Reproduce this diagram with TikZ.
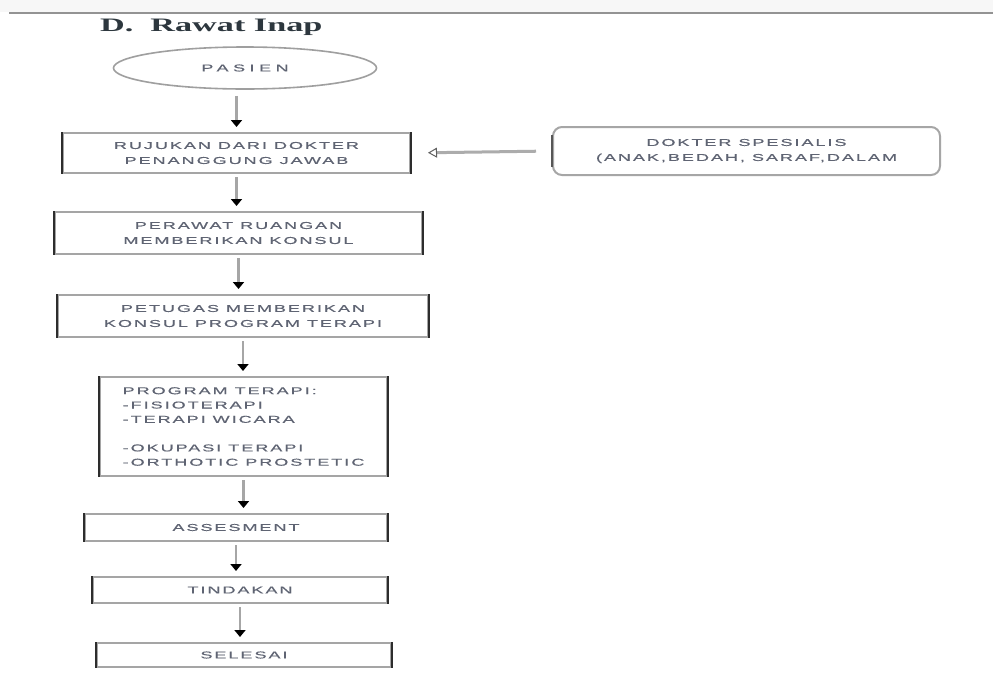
\documentclass[tikz,border=0pt]{standalone}
\usepackage{fontspec}
\usetikzlibrary{arrows.meta,shapes.geometric,calc}
\newfontfamily\boxfont[FakeStretch=1.8,LetterSpace=20,FakeBold=0.5]{Liberation Sans}
\newfontfamily\wideboxfont[FakeStretch=1.8,LetterSpace=45,FakeBold=0.5]{Liberation Sans}
\newfontfamily\titlefont[FakeStretch=1.8]{Liberation Serif}
\definecolor{boxtext}{RGB}{95,100,115}
\definecolor{titletext}{RGB}{45,55,62}
\definecolor{edgegray}{RGB}{165,165,165}
\definecolor{edgedark}{RGB}{45,45,45}
\tikzset{
  x=1pt,y=-1pt,
  stepbox/.style={draw=edgegray,line width=2pt,rectangle,inner sep=0pt,
    font=\boxfont\fontsize{10}{16}\selectfont,text=boxtext,align=center},
  flow/.style={draw=gray!70,line width=2.6pt,shorten <=3pt,shorten >=5pt,
    -{Triangle[width=11pt,length=7pt,fill=black,color=black]}},
  side/.style={draw=edgedark,line width=2pt},
}
\begin{document}
\begin{tikzpicture}
\useasboundingbox (0,0) rectangle (993,678);
\fill[white] (0,0) rectangle (993,678);
\fill[gray!6] (0,0) rectangle (993,12);
\draw[gray!85,line width=2.6pt] (9,13) -- (993,13);

\node[anchor=base west,font=\titlefont\bfseries\fontsize{19}{21}\selectfont,text=titletext,inner sep=0pt]
  (title) at (100,31) {D.\hspace{17pt}Rawat Inap};

\node[ellipse,draw=gray!75,line width=1.6pt,minimum width=263pt,minimum height=42pt,inner sep=0pt,
  font=\wideboxfont\fontsize{10}{16}\selectfont,text=boxtext] (pasien) at (245,68) {PASIEN};

\node[stepbox,minimum width=347pt,minimum height=40pt] (b1) at (236.5,153)
  {RUJUKAN DARI DOKTER\\[-1pt]PENANGGUNG JAWAB};
\node[stepbox,minimum width=367pt,minimum height=42pt] (b2) at (238.5,233)
  {PERAWAT RUANGAN\\[-1pt]MEMBERIKAN KONSUL};
\node[stepbox,minimum width=370pt,minimum height=42pt] (b3) at (243,316)
  {PETUGAS MEMBERIKAN\\[-1pt]KONSUL PROGRAM TERAPI};
\node[stepbox,minimum width=287pt,minimum height=99pt,align=left,
  font=\boxfont\fontsize{10}{14.3}\selectfont] (b4) at (243.5,426.5)
  {PROGRAM TERAPI:\\-FISIOTERAPI\\-TERAPI WICARA\\[14.3pt]-OKUPASI TERAPI\\-ORTHOTIC PROSTETIC};
\node[stepbox,minimum width=302pt,minimum height=27pt] (b5) at (236,527.5) {ASSESMENT};
\node[stepbox,minimum width=294pt,minimum height=26pt] (b6) at (240,590) {TINDAKAN};
\node[stepbox,minimum width=294pt,minimum height=24pt] (b7) at (244,655) {SELESAI};

\node[draw=gray!70,line width=2pt,rounded corners=9pt,minimum width=387pt,minimum height=48pt,
  inner sep=0pt,font=\boxfont\fontsize{10}{16}\selectfont,text=boxtext,align=center]
  (dok) at (746.5,151) {DOKTER SPESIALIS\\[-1pt](ANAK,BEDAH, SARAF,DALAM};

\foreach \b in {b1,b2,b3,b4,b5,b6,b7}{
  \draw[side] (\b.north west) -- (\b.south west);
  \draw[side] (\b.north east) -- (\b.south east);
}
\draw[draw=edgedark!80,line width=2pt] ([yshift=-9pt]dok.north west) -- ([yshift=9pt]dok.south west);

\draw[flow,shorten <=6pt] (pasien.south -| b1.north) -- (b1.north);
\draw[flow] (b1.south) -- (b2.north -| b1.south);
\draw[flow] (b2.south) -- (b3.north -| b2.south);
\draw[flow] (b3.south) -- (b4.north -| b3.south);
\draw[flow] (b4.south) -- (b5.north -| b4.south);
\draw[flow] (b5.south) -- (b6.north -| b5.south);
\draw[flow] (b6.south) -- (b7.north -| b6.south);

\draw[draw=gray!65,line width=3pt,shorten <=16pt,shorten >=17pt,
  -{Triangle[open,width=10pt,length=9pt,line width=1pt,color=gray!75!black]}]
  (dok.west) -- (b1.east);
\end{tikzpicture}
\end{document}
